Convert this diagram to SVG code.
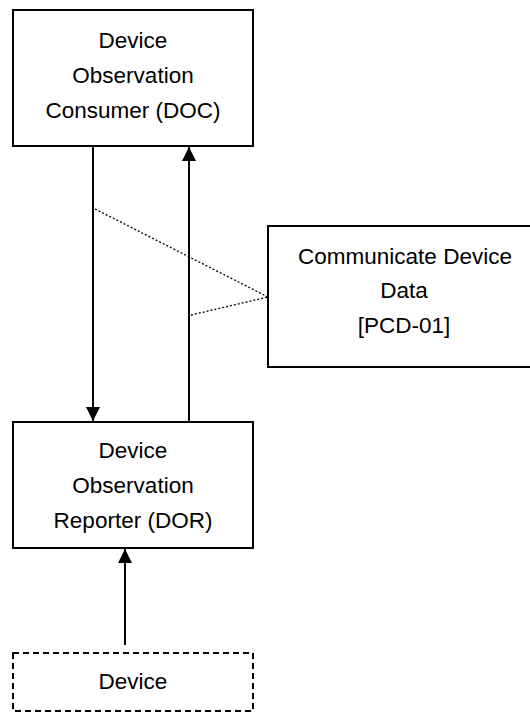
<svg xmlns="http://www.w3.org/2000/svg" width="530" height="713" viewBox="0 0 530 713">
<style>
.box{fill:#fff;stroke:#000;stroke-width:2}
.dash{fill:#fff;stroke:#000;stroke-width:2;stroke-dasharray:6 4}
.t{font-family:"Liberation Sans",Arial,sans-serif;font-size:22.5px;fill:#000;text-anchor:middle}
.ln{stroke:#000;stroke-width:2;fill:none}
.dot{stroke:#000;stroke-width:1.3;stroke-dasharray:2 2;fill:none}
</style>
<defs>
<marker id="ah" markerWidth="13" markerHeight="15" refX="14" refY="7" orient="auto" markerUnits="userSpaceOnUse">
<path d="M0,0 L14,7 L0,14 Z" fill="#000"/>
</marker>
</defs>
<g id="doc">
<rect class="box" x="13" y="10" width="240" height="136"/>
<text class="t" x="133" y="48">Device</text>
<text class="t" x="133" y="83">Observation</text>
<text class="t" x="133" y="118">Consumer (DOC)</text>
</g>
<g id="pcd">
<rect class="box" x="268" y="226" width="280" height="141"/>
<text class="t" x="405" y="264">Communicate Device</text>
<text class="t" x="404" y="298">Data</text>
<text class="t" x="404" y="333">[PCD-01]</text>
</g>
<g id="dor">
<rect class="box" x="13" y="422" width="240" height="126"/>
<text class="t" x="133" y="458">Device</text>
<text class="t" x="133" y="493">Observation</text>
<text class="t" x="133" y="528">Reporter (DOR)</text>
</g>
<g id="device">
<rect class="dash" x="13" y="653" width="240" height="58"/>
<text class="t" x="133" y="689">Device</text>
</g>
<g id="connectors">
<line class="ln" x1="93" y1="146" x2="93" y2="421" marker-end="url(#ah)"/>
<line class="ln" x1="189" y1="422" x2="189" y2="147" marker-end="url(#ah)"/>
<line class="ln" x1="125" y1="645" x2="125" y2="549" marker-end="url(#ah)"/>
<line class="dot" x1="95" y1="209" x2="268" y2="297"/>
<line class="dot" x1="191" y1="315" x2="268" y2="297"/>
</g>
</svg>
